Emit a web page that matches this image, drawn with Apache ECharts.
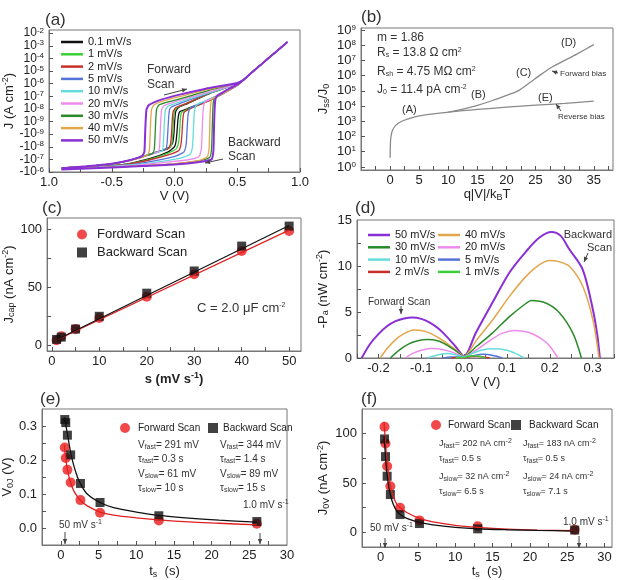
<!DOCTYPE html>
<html>
<head>
<meta charset="utf-8">
<script src="https://cdn.jsdelivr.net/npm/echarts@6/dist/echarts.min.js"></script>
<style>
  html, body { margin: 0; padding: 0; background: #fff; }
  #main { width: 627px; height: 580px; }
</style>
</head>
<body>
<div id="main"></div>
<script>
const FONT = 'Liberation Sans, Arial, Helvetica, sans-serif';

// ---------- (a) J-V loops, y = step on the sym-log axis (0 = -1e-6 ... 3 = -1e-9, 4 = 1e-9 ... 11 = 1e-2)
const aRates = ['0.1 mV/s', '1 mV/s', '2 mV/s', '5 mV/s', '10 mV/s', '20 mV/s', '30 mV/s', '40 mV/s', '50 mV/s'];
const aXVals = [-1, -0.5, 0, 0.5, 1];
const aXText = ['1.0', '-0.5', '0.0', '0.5', '1.0'];
const aYText = ['-10{s|-6}', '-10{s|-7}', '-10{s|-8}', '-10{s|-9}', '10{s|-9}', '10{s|-8}',
  '10{s|-7}', '10{s|-6}', '10{s|-5}', '10{s|-4}', '10{s|-3}', '10{s|-2}'];
const aTail = [[0.55, 7.3], [0.6, 7.75], [0.7, 8.6], [0.8, 9.45], [0.9, 10.3]];
const aFwd = [
  [[-0.9,0.3],[-0.7,0.45],[-0.5,0.65],[-0.35,0.95],[-0.2,1.4],[-0.1,1.7],[-0.04,1.95],[-0.015,2.3],[-0.005,3.0],[0.002,4.1],[0.01,4.8],[0.03,5.1],[0.1,5.4],[0.3,6.3],[0.5,7.0]],
  [[-0.9,0.3],[-0.7,0.45],[-0.5,0.65],[-0.35,0.95],[-0.2,1.4],[-0.1,1.7],[-0.04,1.9],[-0.022,2.2],[-0.014,3.0],[-0.008,4.1],[0.0,4.8],[0.02,5.1],[0.1,5.45],[0.3,6.3],[0.5,7.0]],
  [[-0.9,0.3],[-0.7,0.45],[-0.5,0.65],[-0.35,0.95],[-0.2,1.4],[-0.1,1.7],[-0.05,1.85],[-0.032,2.2],[-0.024,3.0],[-0.018,4.1],[-0.01,4.8],[0.01,5.1],[0.1,5.45],[0.3,6.35],[0.5,7.0]],
  [[-0.9,0.3],[-0.7,0.45],[-0.5,0.65],[-0.35,0.95],[-0.2,1.4],[-0.1,1.7],[-0.068,1.8],[-0.058,2.4],[-0.052,3.4],[-0.046,4.4],[-0.038,5.0],[-0.015,5.2],[0.05,5.45],[0.2,6.0],[0.35,6.5],[0.5,7.0]],
  [[-0.9,0.3],[-0.7,0.45],[-0.5,0.65],[-0.35,0.95],[-0.2,1.4],[-0.1,1.65],[-0.092,1.9],[-0.086,2.8],[-0.08,4.0],[-0.073,4.9],[-0.055,5.2],[0,5.4],[0.15,5.9],[0.35,6.5],[0.5,7.0]],
  [[-0.9,0.3],[-0.7,0.45],[-0.5,0.65],[-0.35,0.95],[-0.2,1.35],[-0.13,1.6],[-0.12,1.9],[-0.115,2.8],[-0.11,4.0],[-0.103,4.9],[-0.085,5.25],[0,5.55],[0.15,6.0],[0.35,6.55],[0.5,7.0]],
  [[-0.9,0.3],[-0.7,0.45],[-0.5,0.65],[-0.35,0.95],[-0.22,1.3],[-0.17,1.5],[-0.16,1.9],[-0.155,2.8],[-0.15,4.0],[-0.143,4.95],[-0.125,5.3],[-0.05,5.55],[0.1,5.95],[0.3,6.55],[0.5,7.05]],
  [[-0.9,0.3],[-0.7,0.45],[-0.5,0.65],[-0.3,1.05],[-0.215,1.35],[-0.2,1.7],[-0.195,2.8],[-0.19,4.0],[-0.183,4.95],[-0.165,5.3],[-0.1,5.6],[0.05,6.0],[0.25,6.5],[0.5,7.05]],
  [[-0.9,0.3],[-0.7,0.45],[-0.5,0.65],[-0.35,0.95],[-0.26,1.25],[-0.24,1.6],[-0.235,2.8],[-0.23,4.0],[-0.223,4.95],[-0.205,5.3],[-0.1,5.75],[0.05,6.15],[0.25,6.6],[0.5,7.05]]
];
const aBwd = [
  [[0.5,6.85],[0.3,5.8],[0.1,5.0],[0.04,4.75],[0.028,4.2],[0.02,3.2],[0.012,2.4],[0,2.0],[-0.05,1.6],[-0.2,1.05],[-0.4,0.6],[-0.7,0.35],[-0.9,0.25]],
  [[0.5,6.85],[0.3,5.75],[0.1,4.95],[0.055,4.7],[0.046,4.1],[0.04,3.1],[0.032,2.3],[0.015,1.85],[-0.05,1.5],[-0.2,1.0],[-0.4,0.6],[-0.7,0.35],[-0.9,0.25]],
  [[0.5,6.85],[0.3,5.75],[0.12,5.0],[0.075,4.7],[0.066,4.1],[0.06,3.1],[0.052,2.2],[0.035,1.7],[-0.05,1.35],[-0.2,0.95],[-0.4,0.58],[-0.7,0.35],[-0.9,0.25]],
  [[0.5,6.85],[0.35,6.1],[0.2,5.4],[0.125,5.05],[0.108,4.5],[0.1,3.3],[0.093,2.2],[0.075,1.6],[0.02,1.3],[-0.1,1.0],[-0.3,0.65],[-0.6,0.4],[-0.9,0.25]],
  [[0.5,6.85],[0.35,6.05],[0.2,5.45],[0.17,5.25],[0.157,4.6],[0.15,3.2],[0.143,2.0],[0.125,1.4],[0.05,1.1],[-0.1,0.85],[-0.3,0.6],[-0.6,0.38],[-0.9,0.24]],
  [[0.5,6.85],[0.35,6.0],[0.25,5.6],[0.235,5.4],[0.226,4.6],[0.22,3.2],[0.214,1.8],[0.195,1.2],[0.1,0.95],[-0.1,0.75],[-0.3,0.55],[-0.6,0.36],[-0.9,0.23]],
  [[0.5,6.9],[0.38,6.2],[0.32,5.85],[0.31,5.55],[0.304,4.6],[0.3,3.2],[0.295,1.8],[0.28,1.15],[0.2,0.9],[0,0.65],[-0.3,0.47],[-0.6,0.34],[-0.9,0.22]],
  [[0.5,6.9],[0.38,6.2],[0.3,5.8],[0.29,5.5],[0.284,4.6],[0.28,3.2],[0.275,1.8],[0.26,1.2],[0.2,0.92],[0,0.66],[-0.3,0.47],[-0.6,0.34],[-0.9,0.22]],
  [[0.5,6.95],[0.4,6.4],[0.34,6.05],[0.325,5.7],[0.318,4.6],[0.314,3.2],[0.31,1.7],[0.295,1.0],[0.2,0.8],[0,0.6],[-0.3,0.45],[-0.6,0.32],[-0.9,0.2]]
];

// ---------- (b) Jss/J0 vs q|V|/kBT
const bXFwd = [0, 0.05, 0.15, 0.4, 1, 2, 3, 5, 7, 10, 12.5, 15, 17.5, 20, 22, 24, 26, 28, 30, 32, 35];
const bYFwd = [4, 32, 100, 250, 560, 1000, 1400, 2240, 2950, 4000, 6300, 11200, 22400, 50000, 1e5, 3.5e5, 1.26e6, 4e6, 1e7, 2.5e7, 1.1e8];
const bXRev = [10, 12.5, 15, 20, 25, 30, 35];
const bYRev = [4000, 5000, 6000, 8500, 11500, 15000, 21000];

// ---------- (c) Jcap vs scan rate
const cRate = [1, 2, 5, 10, 20, 30, 40, 50];
const cFwd = [4.3, 7.7, 14, 23.5, 42, 61.3, 81.4, 98.8];
const cBwd = [5, 7, 14, 25, 45, 64.2, 85.7, 103];
const cFitS = [1, 50];
const cFitFwd = [4.5, 99.5];
const cFitBwd = [4.8, 103.5];

// ---------- (d) -Pa vs V
const dRates = ['50 mV/s', '40 mV/s', '30 mV/s', '20 mV/s', '10 mV/s', '5 mV/s', '2 mV/s', '1 mV/s'];
const dFwd = [
  [[-0.239,0],[-0.22,1.5],[-0.2,2.6],[-0.18,3.45],[-0.16,4.0],[-0.14,4.3],[-0.121,4.4],[-0.1,4.25],[-0.08,3.85],[-0.06,3.2],[-0.04,2.3],[-0.02,1.25],[0,0.2]],
  [[-0.196,0],[-0.18,1.0],[-0.16,2.0],[-0.14,2.65],[-0.117,3.03],[-0.1,3.0],[-0.08,2.7],[-0.06,2.2],[-0.04,1.6],[-0.02,0.9],[0,0.2]],
  [[-0.172,0],[-0.15,0.9],[-0.13,1.5],[-0.11,1.85],[-0.086,2.0],[-0.06,1.85],[-0.04,1.4],[-0.02,0.8],[0,0.2]],
  [[-0.137,0],[-0.12,0.5],[-0.1,0.85],[-0.078,1.03],[-0.06,1.0],[-0.04,0.8],[-0.02,0.5],[0,0.15]],
  [[-0.085,0],[-0.06,0.35],[-0.039,0.48],[-0.02,0.35],[0,0.1]],
  [[-0.05,0],[-0.03,0.12],[-0.02,0.12],[0,0.05]],
  [[-0.03,0],[-0.015,0.05],[0,0.03]],
  [[-0.02,0],[-0.01,0.05],[0,0.03]]
];
const dBwd = [
  [[0,0.2],[0.027,2.7],[0.066,6.0],[0.106,9.3],[0.145,11.6],[0.176,13.1],[0.204,13.7],[0.225,13.3],[0.246,11.8],[0.277,9.6],[0.301,5.2],[0.311,2.5],[0.317,0]],
  [[0,0.2],[0.03,2.0],[0.066,4.1],[0.106,6.7],[0.145,8.9],[0.176,10.15],[0.2,10.6],[0.22,10.5],[0.246,9.97],[0.277,7.8],[0.301,4.1],[0.315,0]],
  [[0,0.2],[0.03,1.3],[0.066,2.7],[0.106,4.5],[0.145,5.95],[0.157,6.25],[0.192,5.95],[0.223,4.9],[0.254,2.7],[0.274,0]],
  [[0,0.15],[0.03,0.9],[0.06,1.9],[0.09,2.7],[0.117,3.0],[0.15,2.8],[0.18,2.1],[0.2,1.3],[0.219,0]],
  [[0,0.1],[0.02,0.5],[0.04,0.85],[0.07,1.0],[0.1,0.85],[0.12,0.5],[0.14,0]],
  [[0,0.05],[0.02,0.25],[0.045,0.4],[0.07,0.25],[0.09,0]],
  [[0,0.03],[0.015,0.15],[0.03,0.2],[0.045,0.12],[0.06,0]],
  [[0,0.03],[0.01,0.2],[0.025,0.25],[0.04,0.15],[0.05,0]]
];

// ---------- (e) V0J vs ts and (f) J0V vs ts
const eTs = [0.52, 0.65, 0.87, 1.3, 2.6, 5.2, 13, 26];
const eFwd = [0.237, 0.206, 0.171, 0.134, 0.082, 0.045, 0.022, 0.0126];
const eBwd = [0.319, 0.31, 0.273, 0.215, 0.131, 0.075, 0.036, 0.019];
const fitTs = [0.45, 0.6, 0.8, 1, 1.3, 1.7, 2.2, 2.6, 3.5, 5.2, 7, 10, 13, 17, 21, 26];
const eFitFwd = [0.245, 0.215, 0.18, 0.158, 0.133, 0.11, 0.092, 0.081, 0.065, 0.047, 0.038, 0.03, 0.024, 0.018, 0.014, 0.009];
const eFitBwd = [0.325, 0.31, 0.285, 0.26, 0.222, 0.185, 0.15, 0.13, 0.1, 0.075, 0.06, 0.047, 0.037, 0.029, 0.023, 0.017];
const fFwd = [107, 90, 67, 46.6, 24.7, 12, 6.1, 2.5];
const fBwd = [94.6, 76.7, 56.8, 38.2, 17.9, 8.8, 3.4, 2.2];
const fFitFwd = [112, 96, 76, 62, 47, 36, 28, 25, 20, 14, 10.5, 7, 5, 3.2, 2.2, 1.5];
const fFitBwd = [98, 82, 62, 50, 38, 28, 21, 18, 14, 10, 7.5, 5, 3.5, 2.5, 1.8, 1.2];

const rateColors = {
  '0.1 mV/s': '#111111', '1 mV/s': '#3ccf3c', '2 mV/s': '#c92f2a', '5 mV/s': '#5574da',
  '10 mV/s': '#66dcdc', '20 mV/s': '#ee8cee', '30 mV/s': '#2a8a2a', '40 mV/s': '#e2a64c', '50 mV/s': '#8a2fd6'
};

const zip = (xs, ys) => xs.map((x, i) => [x, ys[i]]);

const richTick = {
  s: { fontFamily: FONT, fontSize: 8, lineHeight: 6, color: '#222', padding: [0, 0, 5, 0] }
};
const richName = {
  sup: { fontFamily: FONT, fontSize: 9, color: '#222', padding: [0, 0, 7, 0] },
  sub: { fontFamily: FONT, fontSize: 9, color: '#222', padding: [6, 0, 0, 0] },
  supb: { fontFamily: FONT, fontSize: 9, color: '#222', fontWeight: 'bold', padding: [0, 0, 7, 0] }
};

function axis(dim, gi, o) {
  return {
    type: o.type || 'value', gridIndex: gi, min: o.min, max: o.max,
    position: dim === 'y' ? 'left' : 'bottom',
    name: o.name, nameLocation: 'middle', nameGap: o.gap, nameRotate: dim === 'y' ? 90 : 0,
    nameTextStyle: { fontFamily: FONT, fontSize: 13, color: '#222', fontWeight: o.bold ? 'bold' : 'normal', rich: richName },
    axisLine: { show: true, onZero: false, lineStyle: { color: '#777' } },
    axisTick: { show: true, inside: true, length: 4, lineStyle: { color: '#555' }, customValues: o.ticks },
    axisLabel: { customValues: o.labels, formatter: o.fmt, fontFamily: FONT, fontSize: o.labelSize || 13, color: '#222',
      lineHeight: 11, margin: 5, rich: richTick, showMinLabel: true, showMaxLabel: true, hideOverlap: false },
    splitLine: { show: false }
  };
}

const grids = [
  { left: 47, top: 30, width: 253, height: 142 },
  { left: 361, top: 28, width: 252, height: 142 },
  { left: 42, top: 218, width: 259, height: 133 },
  { left: 357, top: 220, width: 257, height: 138 },
  { left: 42, top: 409, width: 245, height: 136 },
  { left: 362, top: 409, width: 250, height: 139 }
].map(g => Object.assign({ show: true, borderColor: '#777', borderWidth: 1 }, g));

const xAxes = [
  axis('x', 0, { min: -1, max: 1, name: 'V (V)', gap: 17, labels: aXVals, ticks: [-1, -0.75, -0.5, -0.25, 0, 0.25, 0.5, 0.75, 1],
    fmt: v => aXText[aXVals.indexOf(v)] }),
  axis('x', 1, { min: -5, max: 38.3, name: 'q|V|/k{sub|B}T', gap: 17, labels: [0, 5, 10, 15, 20, 25, 30, 35],
    ticks: [-2.5, 0, 2.5, 5, 7.5, 10, 12.5, 15, 17.5, 20, 22.5, 25, 27.5, 30, 32.5, 35, 37.5], fmt: v => String(v) }),
  axis('x', 2, { min: -1, max: 52.5, name: 's (mV s{supb|-1})', gap: 20, bold: true, labels: [0, 10, 20, 30, 40, 50],
    ticks: [0, 5, 10, 15, 20, 25, 30, 35, 40, 45, 50], fmt: v => String(v) }),
  axis('x', 3, { min: -0.25, max: 0.35, name: 'V (V)', gap: 17, labels: [-0.2, -0.1, 0, 0.1, 0.2, 0.3],
    ticks: [-0.25, -0.2, -0.15, -0.1, -0.05, 0, 0.05, 0.1, 0.15, 0.2, 0.25, 0.3, 0.35], fmt: v => v.toFixed(1) }),
  axis('x', 4, { min: -2.5, max: 30, name: 't{sub|s}  (s)', gap: 19, labels: [0, 5, 10, 15, 20, 25, 30],
    ticks: [0, 2.5, 5, 7.5, 10, 12.5, 15, 17.5, 20, 22.5, 25, 27.5], fmt: v => String(v) }),
  axis('x', 5, { min: -2.5, max: 31, name: 't{sub|s}  (s)', gap: 17, labels: [0, 5, 10, 15, 20, 25, 30],
    ticks: [0, 2.5, 5, 7.5, 10, 12.5, 15, 17.5, 20, 22.5, 25, 27.5, 30], fmt: v => String(v) })
];
// (a) left labels are split over two overlaid axes (even / odd steps) so none of them gets dropped
const aYEven = axis('y', 0, { min: 0, max: 11.25, name: 'J (A cm{sup|-2})', gap: 32, labelSize: 12, labels: [0, 2, 4, 6, 8, 10],
  ticks: [0, 1, 2, 3, 4, 5, 6, 7, 8, 9, 10, 11], fmt: v => aYText[v] });
const aYOdd = axis('y', 0, { min: 0, max: 11.25, name: '', gap: 32, labelSize: 12, labels: [1, 3, 5, 7, 9, 11],
  ticks: [], fmt: v => aYText[v] });
aYOdd.axisLine.show = false;
aYOdd.axisTick.show = false;
const yAxes = [
  aYEven,
  axis('y', 1, { type: 'log', min: 0.63, max: 1.35e9, name: 'J{sub|ss}/J{sub|0}', gap: 30,
    labels: [1, 10, 100, 1e3, 1e4, 1e5, 1e6, 1e7, 1e8, 1e9], ticks: [1, 10, 100, 1e3, 1e4, 1e5, 1e6, 1e7, 1e8, 1e9],
    fmt: v => '10{s|' + Math.round(Math.log10(v)) + '}' }),
  axis('y', 2, { min: -5, max: 110, name: 'J{sub|cap} (nA cm{sup|-2})', gap: 27, labels: [0, 50, 100],
    ticks: [0, 25, 50, 75, 100], fmt: v => String(v) }),
  axis('y', 3, { min: 0, max: 15, name: '-P{sub|a} (nW cm{sup|-2})', gap: 26, labels: [0, 5, 10, 15],
    ticks: [0, 2.5, 5, 7.5, 10, 12.5], fmt: v => String(v) }),
  axis('y', 4, { min: -0.05, max: 0.35, name: 'V{sub|0J} (V)', gap: 27, labels: [0, 0.1, 0.2, 0.3],
    ticks: [0, 0.05, 0.1, 0.15, 0.2, 0.25, 0.3], fmt: v => v.toFixed(1) }),
  axis('y', 5, { min: -15, max: 125, name: 'J{sub|0V} (nA cm{sup|-2})', gap: 28, labels: [0, 50, 100],
    ticks: [0, 25, 50, 75, 100], fmt: v => String(v) }),
  aYOdd
];

const series = [];
// (a)
aRates.forEach((name, i) => {
  const back = aTail.slice(0, -1).reverse();
  series.push({
    type: 'line', name, xAxisIndex: 0, yAxisIndex: 0, symbol: 'none', smooth: 0.15,
    data: aFwd[i].concat(aTail, back, aBwd[i]),
    lineStyle: { color: rateColors[name], width: i === 8 ? 2 : 1.3 }, itemStyle: { color: rateColors[name] }
  });
});
// (b)
series.push({ type: 'line', name: 'fwdBias', xAxisIndex: 1, yAxisIndex: 1, symbol: 'none', smooth: 0.2,
  data: zip(bXFwd, bYFwd), lineStyle: { color: '#8a8a8a', width: 1.3 } });
series.push({ type: 'line', name: 'revBias', xAxisIndex: 1, yAxisIndex: 1, symbol: 'none', smooth: 0.2,
  data: zip(bXRev, bYRev), lineStyle: { color: '#8a8a8a', width: 1.3 } });
// (c)
series.push({ type: 'line', name: 'cFitF', xAxisIndex: 2, yAxisIndex: 2, symbol: 'none', data: zip(cFitS, cFitFwd), lineStyle: { color: '#e02020', width: 1.2 } });
series.push({ type: 'line', name: 'cFitB', xAxisIndex: 2, yAxisIndex: 2, symbol: 'none', data: zip(cFitS, cFitBwd), lineStyle: { color: '#111', width: 1.2 } });
series.push({ type: 'scatter', name: 'Fordward Scan', xAxisIndex: 2, yAxisIndex: 2, symbol: 'circle', symbolSize: 10,
  data: zip(cRate, cFwd), itemStyle: { color: '#ee1c1c' } });
series.push({ type: 'scatter', name: 'Backward Scan', xAxisIndex: 2, yAxisIndex: 2, symbol: 'rect', symbolSize: 9,
  data: zip(cRate, cBwd), itemStyle: { color: '#111' } });
// (d)
dRates.forEach((name, i) => {
  series.push({
    type: 'line', name, xAxisIndex: 3, yAxisIndex: 3, symbol: 'none', smooth: 0.3,
    data: dFwd[i].concat(dBwd[i].slice(1)),
    lineStyle: { color: rateColors[name], width: i === 0 ? 2 : 1.5 }, itemStyle: { color: rateColors[name] }
  });
});
// (e)
series.push({ type: 'line', name: 'eFitF', xAxisIndex: 4, yAxisIndex: 4, symbol: 'none', smooth: 0.3, data: zip(fitTs, eFitFwd), lineStyle: { color: '#e02020', width: 1.3 } });
series.push({ type: 'line', name: 'eFitB', xAxisIndex: 4, yAxisIndex: 4, symbol: 'none', smooth: 0.3, data: zip(fitTs, eFitBwd), lineStyle: { color: '#111', width: 1.3 } });
series.push({ type: 'scatter', name: 'Forward Scan', xAxisIndex: 4, yAxisIndex: 4, symbol: 'circle', symbolSize: 10, data: zip(eTs, eFwd), itemStyle: { color: '#ee1c1c' } });
series.push({ type: 'scatter', name: 'Backward Scan', xAxisIndex: 4, yAxisIndex: 4, symbol: 'rect', symbolSize: 9, data: zip(eTs, eBwd), itemStyle: { color: '#111' } });
// (f)
series.push({ type: 'line', name: 'fFitF', xAxisIndex: 5, yAxisIndex: 5, symbol: 'none', smooth: 0.3, data: zip(fitTs, fFitFwd), lineStyle: { color: '#e02020', width: 1.3 } });
series.push({ type: 'line', name: 'fFitB', xAxisIndex: 5, yAxisIndex: 5, symbol: 'none', smooth: 0.3, data: zip(fitTs, fFitBwd), lineStyle: { color: '#111', width: 1.3 } });
series.push({ type: 'scatter', name: 'Forward Scan', xAxisIndex: 5, yAxisIndex: 5, symbol: 'circle', symbolSize: 10, data: zip(eTs, fFwd), itemStyle: { color: '#ee1c1c' } });
series.push({ type: 'scatter', name: 'Backward Scan', xAxisIndex: 5, yAxisIndex: 5, symbol: 'rect', symbolSize: 9, data: zip(eTs, fBwd), itemStyle: { color: '#111' } });

const legendText = { fontFamily: FONT, fontSize: 11, color: '#222', lineHeight: 12 };
function lineLegend(data, left, top) {
  return { data, left, top, orient: 'vertical', icon: 'rect', itemWidth: 22, itemHeight: 2.5, itemGap: 0.3, padding: 0, textStyle: legendText };
}
function markLegend(data, left, top, size, gap) {
  return { data, left, top, orient: 'vertical', itemWidth: 10, itemHeight: 10, itemGap: 5, padding: 0,
    textStyle: { fontFamily: FONT, fontSize: size, color: '#222', padding: [0, 0, 0, gap] } };
}
const legends = [
  lineLegend(aRates, 61, 36),
  lineLegend(['50 mV/s', '30 mV/s', '10 mV/s', '2 mV/s'], 368, 229),
  lineLegend(['40 mV/s', '20 mV/s', '5 mV/s', '1 mV/s'], 438, 229),
  markLegend(['Fordward Scan', 'Backward Scan'], 77, 228, 13, 5),
  markLegend(['Forward Scan'], 120, 423, 10, 3),
  markLegend(['Backward Scan'], 208, 423, 10, 0),
  markLegend(['Forward Scan'], 431, 420, 10, 2),
  markLegend(['Backward Scan'], 511, 420, 10, 3)
];

// ---------- annotations
const richAnn = {
  sub: { fontFamily: FONT, fontSize: 7, fill: '#333', padding: [5, 0, 0, 0] },
  sup: { fontFamily: FONT, fontSize: 7, fill: '#333', padding: [0, 0, 6, 0] }
};
function txt(x, y, text, size, align) {
  return {
    type: 'text', x, y, z: 100,
    style: { text, fontFamily: FONT, fontSize: size || 11, fill: '#333', align: align || 'left', verticalAlign: 'middle',
      textAlign: align || 'left', textVerticalAlign: 'middle', rich: richAnn }
  };
}
function arrow(x1, y1, x2, y2) {
  const a = Math.atan2(y2 - y1, x2 - x1), L = 5, W = 2.2;
  const c = Math.cos(a), s = Math.sin(a);
  return [
    { type: 'line', z: 100, shape: { x1, y1, x2, y2 }, style: { stroke: '#444', lineWidth: 1 } },
    { type: 'polygon', z: 100, shape: { points: [[x2, y2], [x2 - L * c + W * s, y2 - L * s - W * c], [x2 - L * c - W * s, y2 - L * s + W * c]] }, style: { fill: '#444' } }
  ];
}
const graphics = [
  txt(45, 20, '(a)', 17), txt(361, 17, '(b)', 17), txt(42, 208, '(c)', 17),
  txt(355, 208, '(d)', 17), txt(40, 399, '(e)', 17), txt(361, 399, '(f)', 17),
  // (a)
  txt(147, 70, 'Forward', 12), txt(147, 85, 'Scan', 12), ...arrow(164, 95, 187, 89),
  txt(228, 143, 'Backward', 12), txt(228, 157, 'Scan', 12), ...arrow(223, 159, 205, 163),
  // (b)
  txt(377, 38, 'm = 1.86', 12), txt(377, 53, 'R{sub|s} = 13.8 Ω cm{sup|2}', 12),
  txt(377, 72, 'R{sub|sh} = 4.75 MΩ cm{sup|2}', 12), txt(377, 90, 'J{sub|0} = 11.4 pA cm{sup|-2}', 12),
  txt(402, 110, '(A)', 11), txt(471, 95, '(B)', 11), txt(516, 73, '(C)', 11), txt(561, 43, '(D)', 11), txt(538, 98, '(E)', 11),
  txt(560, 74, 'Forward bias', 8), ...arrow(558, 73, 552, 71),
  txt(558, 117, 'Reverse bias', 8), ...arrow(561, 111, 556, 104),
  // (c)
  txt(197, 308, 'C = 2.0 μF cm{sup|-2}', 13),
  // (d)
  txt(368, 302, 'Forward Scan', 10), ...arrow(401, 306, 401, 314),
  txt(612, 235, 'Backward', 11, 'right'), txt(612, 248, 'Scan', 11, 'right'), ...arrow(588, 253, 584, 262),
  // (e)
  txt(138, 445, 'V{sub|fast}= 291 mV', 10), txt(138, 459, 'τ{sub|fast}= 0.3 s', 10),
  txt(138, 474, 'V{sub|slow}= 61 mV', 10), txt(138, 488, 'τ{sub|slow}= 10 s', 10),
  txt(220, 445, 'V{sub|fast}= 344 mV', 10), txt(220, 459, 'τ{sub|fast}= 1.4 s', 10),
  txt(220, 474, 'V{sub|slow}= 89 mV', 10), txt(220, 488, 'τ{sub|slow}= 15 s', 10),
  txt(59, 525, '50 mV s{sup|-1}', 10), ...arrow(65, 532, 65, 544),
  txt(243, 505, '1.0 mV s{sup|-1}', 10), ...arrow(260, 533, 260, 544),
  // (f)
  txt(439, 444, 'J{sub|fast}= 202 nA cm{sup|-2}', 9), txt(439, 459, 'τ{sub|fast}= 0.5 s', 9),
  txt(439, 477, 'J{sub|slow}= 32 nA cm{sup|-2}', 9), txt(439, 492, 'τ{sub|slow}= 6.5 s', 9),
  txt(523, 444, 'J{sub|fast}= 183 nA cm{sup|-2}', 9), txt(523, 459, 'τ{sub|fast}= 0.5 s', 9),
  txt(523, 477, 'J{sub|slow}= 24 nA cm{sup|-2}', 9), txt(523, 492, 'τ{sub|slow}= 7.1 s', 9),
  txt(370, 528, '50 mV s{sup|-1}', 10), ...arrow(385, 538, 385, 548),
  txt(563, 522, '1.0 mV s{sup|-1}', 10), ...arrow(579, 536, 579, 548)
];

const chart = echarts.init(document.getElementById('main'), null, { renderer: 'canvas' });
chart.setOption({
  animation: false,
  backgroundColor: '#fff',
  textStyle: { fontFamily: FONT },
  grid: grids,
  xAxis: xAxes,
  yAxis: yAxes,
  legend: legends,
  series,
  graphic: graphics
});
</script>
</body>
</html>
